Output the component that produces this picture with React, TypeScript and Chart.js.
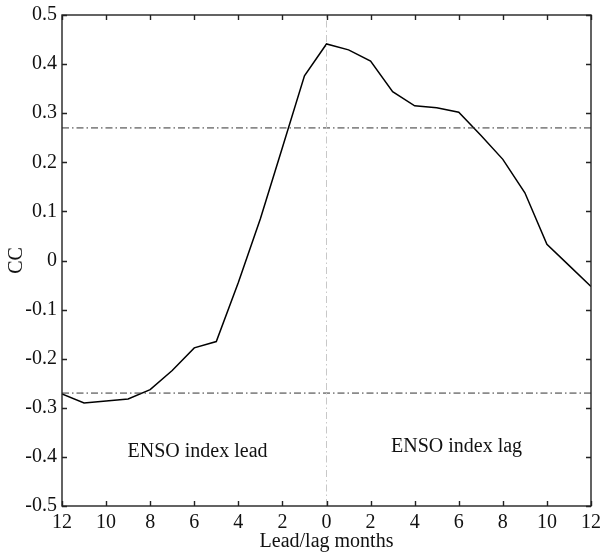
import React, { useEffect, useRef } from 'react';
import { Chart, registerables } from 'chart.js';

Chart.register(...registerables);

// ---- data ----
const lagMonths = [-12, -11, -10, -9, -8, -7, -6, -5, -4, -3, -2, -1, 0, 1, 2, 3, 4, 5, 6, 7, 8, 9, 10, 11, 12];
const ccValues = [-0.272, -0.29, -0.286, -0.282, -0.263, -0.224, -0.178, -0.165, -0.045, 0.085, 0.23, 0.376, 0.441, 0.429, 0.406, 0.344, 0.315, 0.311, 0.302, 0.255, 0.206, 0.138, 0.033, -0.01, -0.053];
const significance = [0.27, -0.27];
const xRange = [-12, 12];
const yRange = [-0.5, 0.5];
const xTickValues = [-12, -10, -8, -6, -4, -2, 0, 2, 4, 6, 8, 10, 12];
const yTickValues = [-0.5, -0.4, -0.3, -0.2, -0.1, 0, 0.1, 0.2, 0.3, 0.4, 0.5];
const annotationTexts = ['ENSO index lead', 'ENSO index lag'];
const annotationX = [-5.85, 5.9];
const annotationY = [-0.39, -0.38];

const FONT = '"Liberation Serif", "Times New Roman", serif';

const framePlugin = {
  id: 'frameTicks',
  afterDatasetsDraw(chart: any) {
    const { ctx, chartArea } = chart;
    const xs = chart.scales.x;
    const ys = chart.scales.y;
    const { left, right, top, bottom } = chartArea;
    const tl = 5;
    ctx.save();
    ctx.strokeStyle = '#222';
    ctx.lineWidth = 1.4;
    ctx.beginPath();
    xTickValues.forEach((v) => {
      const px = Math.round(xs.getPixelForValue(v)) + 0.5;
      ctx.moveTo(px, bottom);
      ctx.lineTo(px, bottom - tl);
      ctx.moveTo(px, top);
      ctx.lineTo(px, top + tl);
    });
    yTickValues.forEach((v) => {
      const py = Math.round(ys.getPixelForValue(v)) + 0.5;
      ctx.moveTo(left, py);
      ctx.lineTo(left + tl, py);
      ctx.moveTo(right, py);
      ctx.lineTo(right - tl, py);
    });
    ctx.stroke();
    ctx.strokeRect(left, top, right - left, bottom - top);

    ctx.fillStyle = '#111';
    ctx.font = `20px ${FONT}`;
    ctx.textAlign = 'center';
    ctx.textBaseline = 'middle';
    annotationTexts.forEach((t, i) => {
      ctx.fillText(t, xs.getPixelForValue(annotationX[i]), ys.getPixelForValue(annotationY[i]));
    });
    ctx.restore();
  },
};

export default function App() {
  const ref = useRef<HTMLCanvasElement | null>(null);

  useEffect(() => {
    if (!ref.current) return;
    const chart = new Chart(ref.current, {
      type: 'line',
      data: {
        datasets: [
          {
            label: 'zero',
            data: [
              { x: 0, y: yRange[0] },
              { x: 0, y: yRange[1] },
            ],
            borderColor: '#c8c8c8',
            borderWidth: 1,
            borderDash: [7, 3, 1.5, 3],
            pointRadius: 0,
          },
          ...significance.map((s) => ({
            label: 'sig' + s,
            data: [
              { x: xRange[0], y: s },
              { x: xRange[1], y: s },
            ],
            borderColor: '#333',
            borderWidth: 1,
            borderDash: [7, 3, 1.5, 3],
            pointRadius: 0,
          })),
          {
            label: 'CC',
            data: lagMonths.map((m, i) => ({ x: m, y: ccValues[i] })),
            borderColor: '#000',
            borderWidth: 1.5,
            pointRadius: 0,
            tension: 0,
          },
        ],
      },
      options: {
        animation: false,
        responsive: false,
        maintainAspectRatio: false,
        layout: { padding: { top: 15, right: 10, left: 0, bottom: 0 } },
        plugins: { legend: { display: false }, tooltip: { enabled: false } },
        scales: {
          x: {
            type: 'linear',
            min: xRange[0],
            max: xRange[1],
            afterBuildTicks: (s: any) => {
              s.ticks = xTickValues.map((v) => ({ value: v }));
            },
            afterFit: (s: any) => {
              s.height = 48;
              s.paddingLeft = 0;
              s.paddingRight = 0;
            },
            grid: { display: false, drawTicks: false },
            border: { display: false },
            ticks: {
              padding: 5,
              maxRotation: 0,
              autoSkip: false,
              color: '#111',
              font: { family: FONT, size: 20 },
              callback: (v: any) => String(Math.abs(Number(v))),
            },
            title: {
              display: true,
              text: 'Lead/lag months',
              color: '#111',
              font: { family: FONT, size: 20 },
              padding: { top: 0, bottom: 0 },
            },
          },
          y: {
            type: 'linear',
            min: yRange[0],
            max: yRange[1],
            afterBuildTicks: (s: any) => {
              s.ticks = yTickValues.map((v) => ({ value: v }));
            },
            afterFit: (s: any) => {
              s.width = 62;
              s.paddingTop = 0;
              s.paddingBottom = 0;
            },
            grid: { display: false, drawTicks: false },
            border: { display: false },
            ticks: {
              padding: 5,
              autoSkip: false,
              color: '#111',
              font: { family: FONT, size: 20 },
              callback: (v: any) => {
                const n = Number(v);
                if (Math.abs(n) < 1e-9) return '0';
                return n.toFixed(1);
              },
            },
            title: {
              display: true,
              text: 'CC',
              color: '#111',
              font: { family: FONT, size: 20 },
              padding: { top: 5, bottom: 0 },
            },
          },
        },
      },
      plugins: [framePlugin],
    });
    return () => chart.destroy();
  }, []);

  return (
    <div style={{ position: 'fixed', left: 0, top: 0, width: 601, height: 554, background: '#fff' }}>
      <canvas ref={ref} width={601} height={554} style={{ width: 601, height: 554, display: 'block' }} />
    </div>
  );
}
